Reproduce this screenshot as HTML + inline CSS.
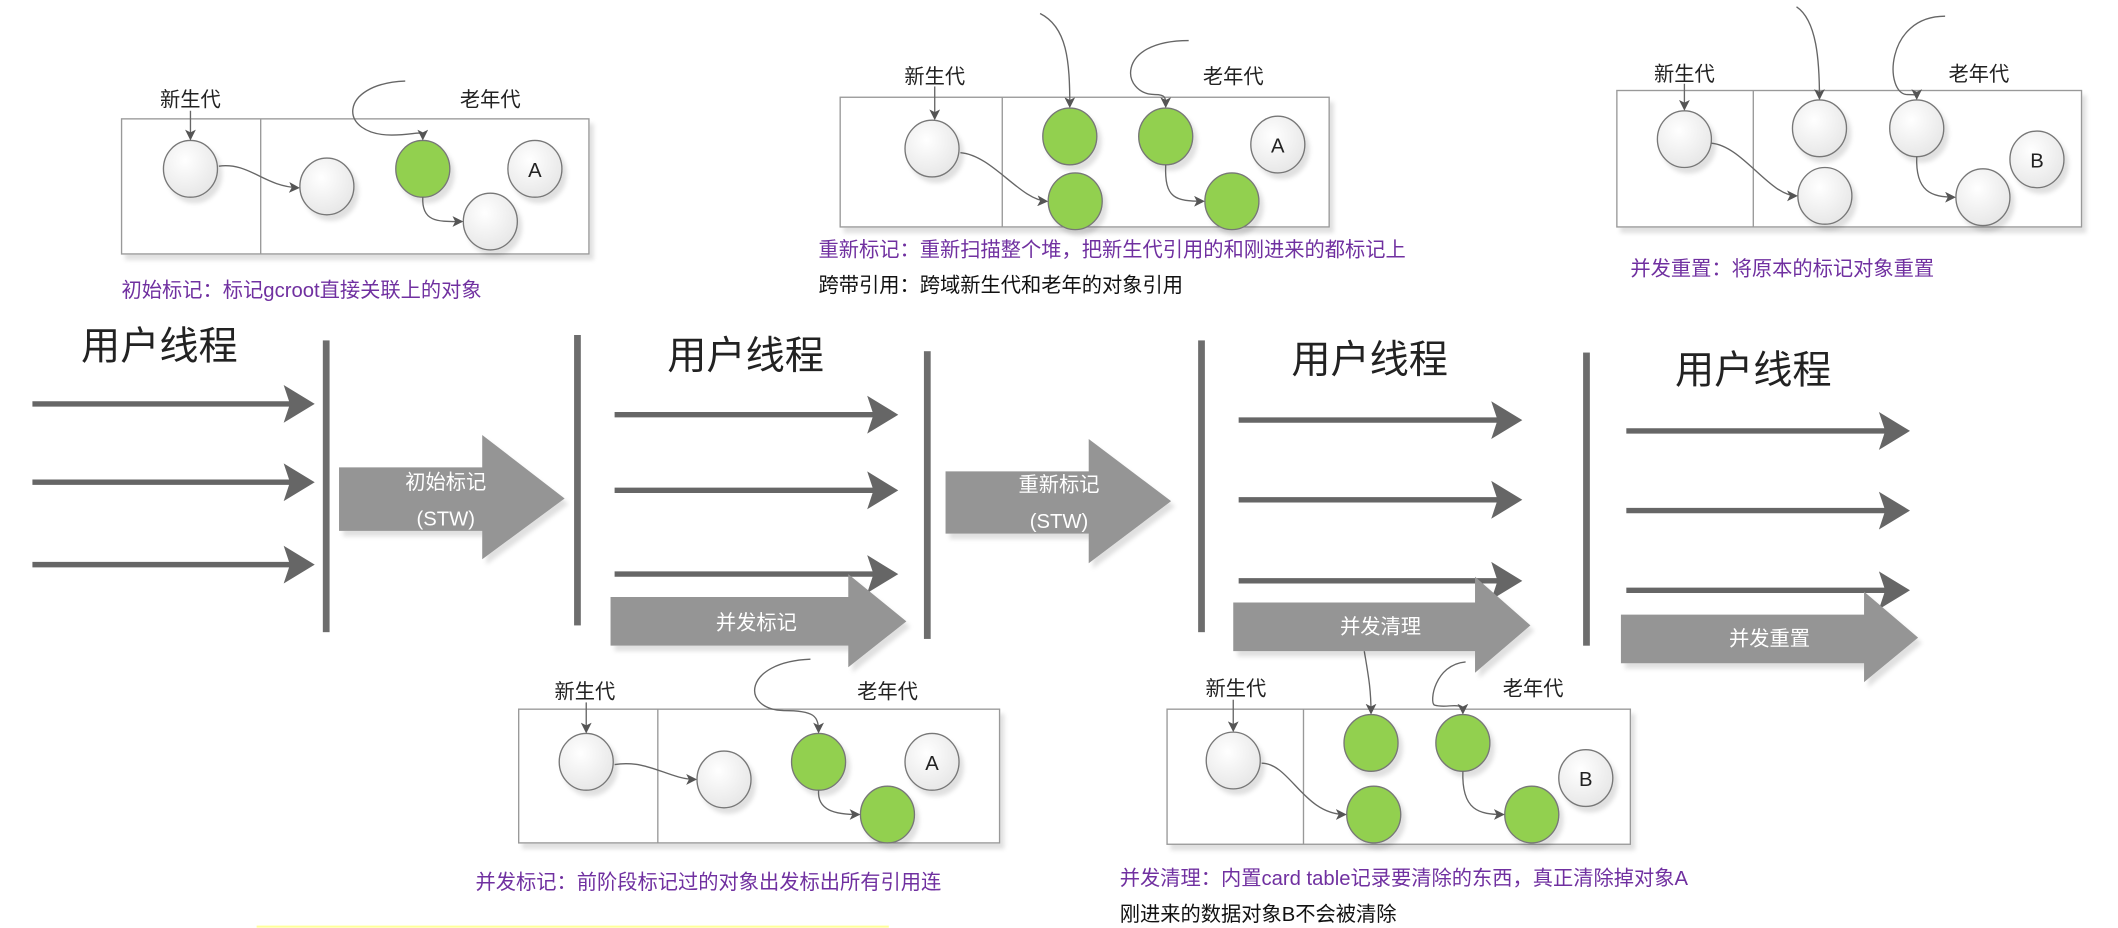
<!DOCTYPE html>
<html><head><meta charset="utf-8"><style>
html,body{margin:0;padding:0;background:#fff;width:2118px;height:928px;overflow:hidden}
svg{display:block}
text{font-family:"Liberation Sans","Noto Sans CJK SC",sans-serif}
</style></head><body>
<svg width="2118" height="928" viewBox="0 0 1568 687" preserveAspectRatio="none" xmlns="http://www.w3.org/2000/svg">
<defs>
<marker id="ah" markerWidth="8" markerHeight="8" refX="7" refY="4" orient="auto" markerUnits="userSpaceOnUse"><path d="M0,0 L8,4 L0,8 L2,4 Z" fill="#555"/></marker>
<radialGradient id="wg" cx="0.4" cy="0.35" r="0.7"><stop offset="0" stop-color="#fff"/><stop offset="1" stop-color="#e6e6e6"/></radialGradient>
<filter id="sh" x="-20%" y="-20%" width="150%" height="150%"><feDropShadow dx="3" dy="4" stdDeviation="1.5" flood-color="#000" flood-opacity="0.12"/></filter>
</defs>

<g stroke="#555" stroke-width="1" fill="none">
<rect x="90" y="88" width="346" height="100" fill="#fff" stroke="#999" filter="url(#sh)"/>
<line x1="193" y1="88" x2="193" y2="188" stroke="#999"/>
<rect x="622" y="72" width="362" height="96" fill="#fff" stroke="#999" filter="url(#sh)"/>
<line x1="742" y1="72" x2="742" y2="168" stroke="#999"/>
<rect x="1197" y="67" width="344" height="101" fill="#fff" stroke="#999" filter="url(#sh)"/>
<line x1="1298" y1="67" x2="1298" y2="168" stroke="#999"/>
<rect x="384" y="525" width="356" height="99" fill="#fff" stroke="#999" filter="url(#sh)"/>
<line x1="487" y1="525" x2="487" y2="624" stroke="#999"/>
<rect x="864" y="525" width="343" height="100" fill="#fff" stroke="#999" filter="url(#sh)"/>
<line x1="965" y1="525" x2="965" y2="625" stroke="#999"/>
</g>

<g stroke="#777" stroke-width="1" filter="url(#sh)">
<ellipse cx="141" cy="125" rx="20" ry="21" fill="url(#wg)"/>
<ellipse cx="242" cy="138" rx="20" ry="21" fill="url(#wg)"/>
<ellipse cx="313" cy="125" rx="20" ry="21" fill="#92d050"/>
<ellipse cx="396" cy="125" rx="20" ry="21" fill="url(#wg)"/>
<ellipse cx="363" cy="164" rx="20" ry="21" fill="url(#wg)"/>

<ellipse cx="690" cy="110" rx="20" ry="21" fill="url(#wg)"/>
<ellipse cx="792" cy="101" rx="20" ry="21" fill="#92d050"/>
<ellipse cx="863" cy="101" rx="20" ry="21" fill="#92d050"/>
<ellipse cx="946" cy="107" rx="20" ry="21" fill="url(#wg)"/>
<ellipse cx="796" cy="149" rx="20" ry="21" fill="#92d050"/>
<ellipse cx="912" cy="149" rx="20" ry="21" fill="#92d050"/>

<ellipse cx="1247" cy="103" rx="20" ry="21" fill="url(#wg)"/>
<ellipse cx="1347" cy="95" rx="20" ry="21" fill="url(#wg)"/>
<ellipse cx="1419" cy="95" rx="20" ry="21" fill="url(#wg)"/>
<ellipse cx="1508" cy="118" rx="20" ry="21" fill="url(#wg)"/>
<ellipse cx="1351" cy="145" rx="20" ry="21" fill="url(#wg)"/>
<ellipse cx="1468" cy="146" rx="20" ry="21" fill="url(#wg)"/>

<ellipse cx="434" cy="564" rx="20" ry="21" fill="url(#wg)"/>
<ellipse cx="536" cy="577" rx="20" ry="21" fill="url(#wg)"/>
<ellipse cx="606" cy="564" rx="20" ry="21" fill="#92d050"/>
<ellipse cx="690" cy="564" rx="20" ry="21" fill="url(#wg)"/>
<ellipse cx="657" cy="603" rx="20" ry="21" fill="#92d050"/>

<ellipse cx="913" cy="563" rx="20" ry="21" fill="url(#wg)"/>
<ellipse cx="1015" cy="550" rx="20" ry="21" fill="#92d050"/>
<ellipse cx="1083" cy="550" rx="20" ry="21" fill="#92d050"/>
<ellipse cx="1174" cy="576" rx="20" ry="21" fill="url(#wg)"/>
<ellipse cx="1017" cy="603" rx="20" ry="21" fill="#92d050"/>
<ellipse cx="1134" cy="603" rx="20" ry="21" fill="#92d050"/>
</g>

<g stroke="#666" stroke-width="1" fill="none" marker-end="url(#ah)">
<path d="M141,82 L141,103"/>
<path d="M162,123 C185,120 195,138 221,139"/>
<path d="M313,146 C312,165 325,164 342,164"/>
<path d="M300,60 C250,62 250,100 290,100 C310,100 313,95 313,103"/>

<path d="M692,64 L692,88"/>
<path d="M711,113 C735,115 755,148 775,149"/>
<path d="M770,10 C790,20 792,45 792,79"/>
<path d="M880,30 C825,30 830,70 855,70 C863,70 863,72 863,79"/>
<path d="M863,122 C862,147 870,149 891,149"/>

<path d="M1247,62 L1247,81"/>
<path d="M1267,106 C1290,108 1310,145 1330,145"/>
<path d="M1330,5 C1345,15 1347,45 1347,73"/>
<path d="M1440,12 C1395,12 1395,70 1412,70 C1419,70 1419,70 1419,73"/>
<path d="M1419,116 C1418,142 1430,146 1447,146"/>

<path d="M434,520 L434,542"/>
<path d="M455,566 C480,562 495,577 515,577"/>
<path d="M600,488 C550,490 548,525 580,526 C603,526 606,530 606,542"/>
<path d="M606,585 C605,600 618,603 636,603"/>

<path d="M913,518 L913,541"/>
<path d="M934,565 C955,565 965,603 996,603"/>
<path d="M1010,482 C1013,500 1015,510 1015,528"/>
<path d="M1085,490 C1062,492 1058,520 1062,522 C1072,525 1083,518 1083,528"/>
<path d="M1083,571 C1082,600 1095,603 1113,603"/>
</g>

<g font-size="15" fill="#222" text-anchor="middle">
<text x="396" y="131">A</text>
<text x="946" y="113">A</text>
<text x="1508" y="124">B</text>
<text x="690" y="570">A</text>
<text x="1174" y="582">B</text>
</g>

<g font-size="15" fill="#222" text-anchor="middle">
<text x="141" y="79">新生代</text><text x="363" y="79">老年代</text>
<text x="692" y="62">新生代</text><text x="913" y="62">老年代</text>
<text x="1247" y="60">新生代</text><text x="1465" y="60">老年代</text>
<text x="433" y="517">新生代</text><text x="657" y="517">老年代</text>
<text x="915" y="515">新生代</text><text x="1135" y="515">老年代</text>
</g>

<g font-size="15">
<text x="90" y="220" fill="#7030a0">初始标记：标记gcroot直接关联上的对象</text>
<text x="606" y="190" fill="#7030a0">重新标记：重新扫描整个堆，把新生代引用的和刚进来的都标记上</text>
<text x="606" y="216" fill="#111">跨带引用：跨域新生代和老年的对象引用</text>
<text x="1207" y="204" fill="#7030a0">并发重置：将原本的标记对象重置</text>
<text x="352" y="658" fill="#7030a0">并发标记：前阶段标记过的对象出发标出所有引用连</text>
<text x="829" y="655" fill="#7030a0">并发清理：内置card table记录要清除的东西，真正清除掉对象A</text>
<text x="829" y="682" fill="#111">刚进来的数据对象B不会被清除</text>
</g>
<line x1="190" y1="686" x2="658" y2="686" stroke="#ffff99" stroke-width="1.5"/>

<g font-size="29" fill="#222">
<text x="60" y="266">用户线程</text>
<text x="494" y="273">用户线程</text>
<text x="956" y="276">用户线程</text>
<text x="1240" y="284">用户线程</text>
</g>

<g fill="#6d6d6d">
<rect x="239" y="252" width="5" height="216"/>
<rect x="425" y="248" width="5" height="215"/>
<rect x="684" y="260" width="5" height="213"/>
<rect x="887" y="252" width="5" height="216"/>
<rect x="1172" y="261" width="5" height="217"/>
</g>

<g fill="#666">
<path d="M24,297 L214,297 L210,285 L233,299 L210,313 L214,301 L24,301 Z"/>
<path d="M24,355 L214,355 L210,343 L233,357 L210,371 L214,359 L24,359 Z"/>
<path d="M24,416 L214,416 L210,404 L233,418 L210,432 L214,420 L24,420 Z"/>
<path d="M455,305 L646,305 L642,293 L665,307 L642,321 L646,309 L455,309 Z"/>
<path d="M455,361 L646,361 L642,349 L665,363 L642,377 L646,365 L455,365 Z"/>
<path d="M455,423 L646,423 L642,411 L665,425 L642,439 L646,427 L455,427 Z"/>
<path d="M917,309 L1108,309 L1104,297 L1127,311 L1104,325 L1108,313 L917,313 Z"/>
<path d="M917,368 L1108,368 L1104,356 L1127,370 L1104,384 L1108,372 L917,372 Z"/>
<path d="M917,428 L1108,428 L1104,416 L1127,430 L1104,444 L1108,432 L917,432 Z"/>
<path d="M1204,317 L1395,317 L1391,305 L1414,319 L1391,333 L1395,321 L1204,321 Z"/>
<path d="M1204,376 L1395,376 L1391,364 L1414,378 L1391,392 L1395,380 L1204,380 Z"/>
<path d="M1204,435 L1395,435 L1391,423 L1414,437 L1391,451 L1395,439 L1204,439 Z"/>
</g>

<g fill="#959595" filter="url(#sh)">
<path d="M251,346 L357,346 L357,322 L418,369 L357,414 L357,393 L251,393 Z"/>
<path d="M700,349 L806,349 L806,325 L867,371 L806,417 L806,395 L700,395 Z"/>
<path d="M452,442 L628,442 L628,425 L671,460 L628,494 L628,478 L452,478 Z"/>
<path d="M913,446 L1092,446 L1092,427 L1133,463 L1092,498 L1092,482 L913,482 Z"/>
<path d="M1200,455 L1380,455 L1380,438 L1420,472 L1380,505 L1380,491 L1200,491 Z"/>
</g>
<g font-size="15" fill="#fff" text-anchor="middle">
<text x="330" y="362">初始标记</text><text x="330" y="389">(STW)</text>
<text x="784" y="364">重新标记</text><text x="784" y="391">(STW)</text>
<text x="560" y="466">并发标记</text>
<text x="1022" y="469">并发清理</text>
<text x="1310" y="478">并发重置</text>
</g>
</svg>
</body></html>
